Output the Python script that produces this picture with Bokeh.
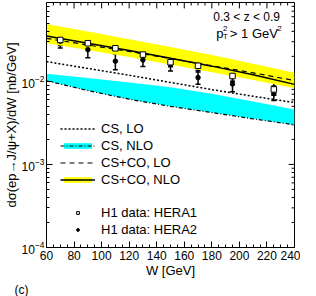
import math
from bokeh.plotting import figure
from bokeh.models import (Legend, LegendItem, Label, Whisker, Title,
                          TeeHead, ColumnDataSource, Range1d, SingleIntervalTicker)
from bokeh.embed import file_html
from bokeh.resources import INLINE

# ---- data ----
w_curve = [60, 90, 120, 150, 180, 210, 240]
cs_lo = [0.01728, 0.01431, 0.01185, 0.00971, 0.00796, 0.00661, 0.00556]
cs_nlo_hi = [0.01233, 0.01094, 0.00971, 0.00850, 0.00707, 0.00571, 0.00459]
cs_nlo_lo = [0.01016, 0.00775, 0.00610, 0.00500, 0.00421, 0.00354, 0.00300]
csco_lo = [0.0329, 0.0274, 0.0229, 0.01885, 0.01545, 0.01266, 0.01024]
csco_nlo = [0.0352, 0.0287, 0.0235, 0.0190, 0.01525, 0.0120, 0.0092]
csco_nlo_hi = [0.0490, 0.0397, 0.0322, 0.0259, 0.0207, 0.0163, 0.01266]
csco_nlo_lo = [0.0288, 0.0238, 0.0196, 0.0160, 0.01283, 0.01038, 0.00828]

w_data = [70, 90, 110, 130, 150, 170, 195, 225]
hera1 = [0.0315, 0.0288, 0.0250, 0.0210, 0.0170, 0.0154, 0.0116, 0.0080]
hera1_hi = [0.0372, 0.0335, 0.0288, 0.0235, 0.0206, 0.0180, 0.0138, 0.0099]
hera1_lo = [0.0270, 0.0250, 0.0215, 0.0185, 0.0150, 0.0130, 0.0100, 0.0068]
hera2 = [0.0305, 0.0241, 0.0175, 0.0181, 0.0161, 0.0111, 0.0093, 0.0071]
hera2_hi = [0.0355, 0.0285, 0.0215, 0.0215, 0.0190, 0.0135, 0.0112, 0.0088]
hera2_lo = [0.0252, 0.0192, 0.0138, 0.0151, 0.0133, 0.0092, 0.0075, 0.0059]

X_MIN, X_MAX = 60, 240
Y_MIN, Y_MAX = 1e-4, 0.089
FONT = "Liberation Sans"

FRAME_W, FRAME_H = 254, 248   # approximate frame size, used for tick lengths
p = figure(width=300, height=296, y_axis_type="log",
           x_range=Range1d(X_MIN, X_MAX), y_range=Range1d(Y_MIN, Y_MAX),
           output_backend="svg", toolbar_location=None,
           min_border_left=37, min_border_right=6, min_border_top=2,
           min_border_bottom=38)
p.background_fill_color = "white"
p.outline_line_color = "black"
p.outline_line_width = 1
p.xgrid.visible = False
p.ygrid.visible = False

def style_axis(ax, size):
    ax.major_tick_in = 6
    ax.major_tick_out = 0
    ax.minor_tick_in = 3
    ax.minor_tick_out = 0
    ax.axis_line_color = "black"
    ax.major_tick_line_color = "black"
    ax.minor_tick_line_color = "black"
    ax.major_label_text_font = FONT
    ax.major_label_text_font_size = size
    ax.major_label_text_color = "black"
    ax.axis_label_text_font = FONT
    ax.axis_label_text_font_style = "normal"
    ax.axis_label_text_font_size = "13px"
    ax.axis_label_text_color = "black"

xa = p.xaxis[0]
xa.ticker = SingleIntervalTicker(interval=20, num_minor_ticks=4)
style_axis(xa, "12px")
xa.major_label_standoff = 3
xa.axis_label = "W [GeV]"
xa.axis_label_standoff = 0

ya = p.yaxis[0]
style_axis(ya, "12px")
ya.major_label_standoff = 2
ya.axis_label = "dσ(ep→J/ψ+X)/dW [nb/GeV]"
ya.axis_label_standoff = 0

p.add_layout(Title(text="(c)", align="left", offset=-32, standoff=0,
                   text_font=FONT, text_font_size="12px",
                   text_font_style="normal", text_color="black"), "below")

# mirrored inward ticks on the right and top frame edges
dec = math.log10(Y_MAX / Y_MIN) / FRAME_H          # decades per pixel
wpp = (X_MAX - X_MIN) / FRAME_W                     # W units per pixel
rx0, rx1, ry = [], [], []
for k in (-4, -3, -2):
    for m in range(1, 10):
        v = m * 10.0 ** k
        if v <= Y_MAX:
            ln = 6 if m == 1 else 3
            rx0.append(X_MAX - ln * wpp)
            rx1.append(X_MAX)
            ry.append(v)
p.segment(x0=rx0, y0=ry, x1=rx1, y1=ry, line_color="black", line_width=1)
tx, ty0, ty1 = [], [], []
for xv in range(X_MIN, X_MAX + 1, 5):
    ln = 6 if xv % 20 == 0 else 3
    tx.append(xv)
    ty0.append(Y_MAX / 10 ** (ln * dec))
    ty1.append(Y_MAX)
p.segment(x0=tx, y0=ty0, x1=tx, y1=ty1, line_color="black", line_width=1)

# ---- theory bands and curves ----
yel = p.varea(x=w_curve, y1=csco_nlo_lo, y2=csco_nlo_hi, fill_color="#ffff00")
cya = p.varea(x=w_curve, y1=cs_nlo_lo, y2=cs_nlo_hi, fill_color="#00ffff")
l_cslo = p.line(w_curve, cs_lo, line_color="black", line_width=1.5, line_dash="2 2")
l_csnlo = p.line(w_curve, cs_nlo_lo, line_color="black", line_width=1.2, line_dash="4 2 1 2")
l_cscolo = p.line(w_curve, csco_lo, line_color="black", line_width=1.2, line_dash="5 4")
l_csconlo = p.line(w_curve, csco_nlo, line_color="black", line_width=1.5)

# ---- data ----
s1 = ColumnDataSource(dict(x=w_data, y=hera1, lo=hera1_lo, hi=hera1_hi))
s2 = ColumnDataSource(dict(x=w_data, y=hera2, lo=hera2_lo, hi=hera2_hi))
for s in (s1, s2):
    p.add_layout(Whisker(base="x", upper="hi", lower="lo", source=s,
                         line_color="black", line_width=1.5,
                         upper_head=TeeHead(size=5, line_color="black", line_width=1.5),
                         lower_head=TeeHead(size=5, line_color="black", line_width=1.5)))
r2 = p.scatter("x", "y", source=s2, marker="circle", size=4.5,
               fill_color="black", line_color="black")
r1 = p.scatter("x", "y", source=s1, marker="square", size=5.5,
               fill_color="white", line_color="black", line_width=1)

# ---- legends ----
def mk_legend(items, loc):
    lg = Legend(items=items, location=loc, padding=0, margin=0, spacing=0,
                label_standoff=6, glyph_width=35, glyph_height=7, label_height=17,
                label_text_font=FONT, label_text_font_size="13px",
                label_text_color="black", border_line_color=None,
                background_fill_alpha=0)
    p.add_layout(lg)

mk_legend([LegendItem(label="CS, LO", renderers=[l_cslo]),
           LegendItem(label="CS, NLO", renderers=[cya, l_csnlo]),
           LegendItem(label="CS+CO, LO", renderers=[l_cscolo]),
           LegendItem(label="CS+CO, NLO", renderers=[yel, l_csconlo])], (14, 59))
mk_legend([LegendItem(label="H1 data: HERA1", renderers=[r1]),
           LegendItem(label="H1 data: HERA2", renderers=[r2])], (14, 9))

# ---- annotations inside the frame (placed in data space) ----
def wx(px):
    return 60 + (px - 45) * 180.0 / 257.0

def wy(py):
    return 10 ** ((258.0 - py) / 86.8 - 4)

def lab(text, px, py, size="13px", align="left"):
    p.add_layout(Label(x=wx(px), y=wy(py), text=text, text_font=FONT,
                       text_font_size=size, text_color="black",
                       text_align=align, text_baseline="middle"))

lab("0.3 < z < 0.9", 287, 17, size="12px", align="right")
lab("p", 221, 34)
lab("T", 228, 38, size="8px")
lab("2", 228, 29, size="8px")
lab("> 1 GeV", 235, 34)
lab("2", 284, 29, size="8px")

open("out.html", "w").write(file_html(p, INLINE))
